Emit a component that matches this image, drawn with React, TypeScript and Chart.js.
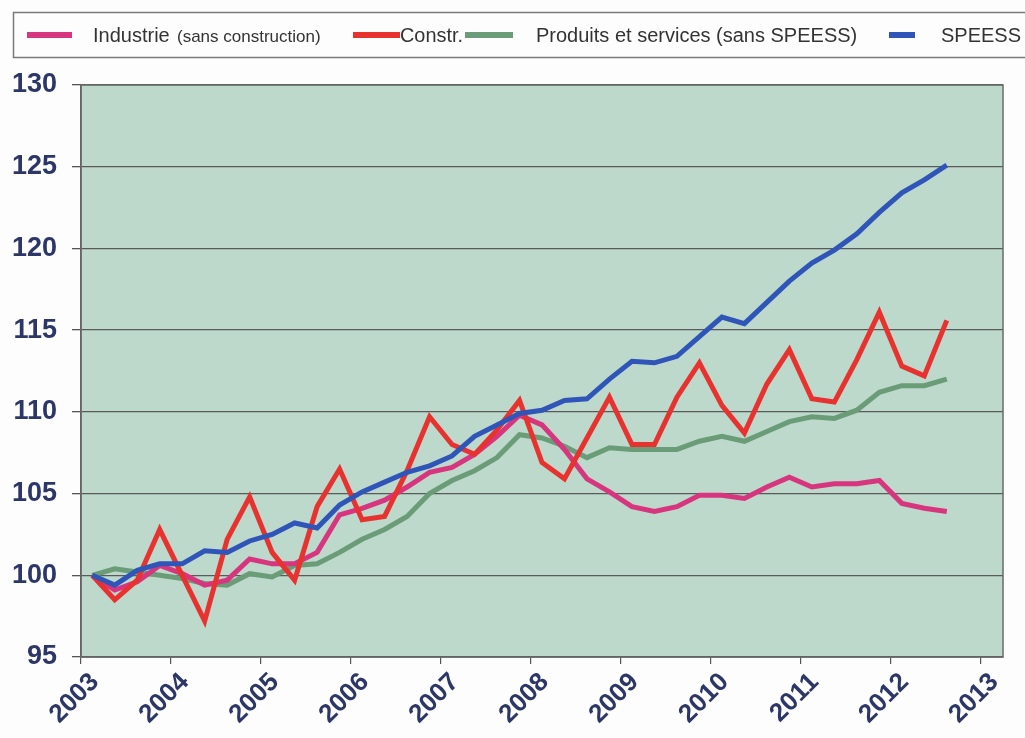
import React, { useEffect, useRef } from "react";
import { Chart, registerables } from "chart.js";

Chart.register(...registerables);

const quarters = [
  "2003T1", "2003T2", "2003T3", "2003T4",
  "2004T1", "2004T2", "2004T3", "2004T4",
  "2005T1", "2005T2", "2005T3", "2005T4",
  "2006T1", "2006T2", "2006T3", "2006T4",
  "2007T1", "2007T2", "2007T3", "2007T4",
  "2008T1", "2008T2", "2008T3", "2008T4",
  "2009T1", "2009T2", "2009T3", "2009T4",
  "2010T1", "2010T2", "2010T3", "2010T4",
  "2011T1", "2011T2", "2011T3", "2011T4",
  "2012T1", "2012T2", "2012T3",
];

const yearTicks = [2003, 2004, 2005, 2006, 2007, 2008, 2009, 2010, 2011, 2012, 2013];
const yTicks = [95, 100, 105, 110, 115, 120, 125, 130];

const industrie = [
  100.0, 99.1, 99.6, 100.6, 100.1, 99.4, 99.7, 101.0, 100.7, 100.7,
  101.4, 103.7, 104.1, 104.6, 105.4, 106.3, 106.6, 107.4, 108.5, 109.8,
  109.2, 107.7, 105.9, 105.1, 104.2, 103.9, 104.2, 104.9, 104.9, 104.7,
  105.4, 106.0, 105.4, 105.6, 105.6, 105.8, 104.4, 104.1, 103.9,
];

const construction = [
  100.0, 98.5, 99.7, 102.8, 100.0, 97.2, 102.2, 104.8, 101.4, 99.7,
  104.2, 106.5, 103.4, 103.6, 106.4, 109.7, 108.0, 107.4, 108.9, 110.7,
  106.9, 105.9, 108.4, 110.9, 108.0, 108.0, 110.9, 113.0, 110.4, 108.7,
  111.7, 113.8, 110.8, 110.6, 113.2, 116.1, 112.8, 112.2, 115.6,
];

const produits = [
  100.0, 100.4, 100.2, 100.0, 99.8, 99.5, 99.4, 100.1, 99.9, 100.6,
  100.7, 101.4, 102.2, 102.8, 103.6, 105.0, 105.8, 106.4, 107.2, 108.6,
  108.4, 107.9, 107.2, 107.8, 107.7, 107.7, 107.7, 108.2, 108.5, 108.2,
  108.8, 109.4, 109.7, 109.6, 110.1, 111.2, 111.6, 111.6, 112.0,
];

const speess = [
  100.0, 99.4, 100.3, 100.7, 100.7, 101.5, 101.4, 102.1, 102.5, 103.2,
  102.9, 104.3, 105.1, 105.7, 106.3, 106.7, 107.3, 108.5, 109.2, 109.9,
  110.1, 110.7, 110.8, 112.0, 113.1, 113.0, 113.4, 114.6, 115.8, 115.4,
  116.7, 118.0, 119.1, 119.9, 120.9, 122.2, 123.4, 124.2, 125.1,
];

const seriesNames = [
  "Industrie",
  "Constr.",
  "Produits et services (sans SPEESS)",
  "SPEESS",
];
const industrieNote = "(sans construction)";

const COLORS = {
  industrie: "#d8357f",
  construction: "#e8322f",
  produits: "#6a9c77",
  speess: "#2f55b9",
};

const quarterPos = (q: string) => {
  const year = parseInt(q.slice(0, 4), 10);
  const qn = parseInt(q.slice(-1), 10);
  return year + (qn - 0.5) / 4;
};

const toPoints = (vals: number[]) =>
  vals.map((v, i) => ({ x: quarterPos(quarters[i]), y: v }));

const FONT = "'Liberation Sans', Arial, sans-serif";
const NAVY = "#2c3768";

const backgroundPlugin = {
  id: "bgPlot",
  beforeDraw(chart: any) {
    const { ctx, chartArea } = chart;
    ctx.save();
    ctx.fillStyle = "#fdfdfd";
    ctx.fillRect(0, 0, chart.width, chart.height);
    ctx.fillStyle = "#bdd9cb";
    ctx.fillRect(
      chartArea.left,
      chartArea.top,
      chartArea.right - chartArea.left,
      chartArea.bottom - chartArea.top
    );
    ctx.restore();
  },
  beforeDatasetsDraw(chart: any) {
    const { ctx, chartArea } = chart;
    ctx.save();
    ctx.strokeStyle = "#6a6a6a";
    ctx.lineWidth = 1.5;
    ctx.strokeRect(
      chartArea.left,
      chartArea.top,
      chartArea.right - chartArea.left,
      chartArea.bottom - chartArea.top
    );
    ctx.restore();
  },
};

const legendPlugin = {
  id: "customLegend",
  afterDraw(chart: any) {
    const { ctx } = chart;
    ctx.save();
    ctx.strokeStyle = "#7a7a7a";
    ctx.lineWidth = 1.5;
    ctx.strokeRect(13.5, 12.5, 1030, 45);
    const yc = 35;
    const sample = (x1: number, x2: number, color: string) => {
      ctx.strokeStyle = color;
      ctx.lineWidth = 6;
      ctx.lineCap = "butt";
      ctx.beginPath();
      ctx.moveTo(x1, yc);
      ctx.lineTo(x2, yc);
      ctx.stroke();
    };
    ctx.fillStyle = "#333333";
    ctx.textBaseline = "middle";
    ctx.textAlign = "left";
    sample(27, 72, COLORS.industrie);
    ctx.font = `20px ${FONT}`;
    ctx.fillText(seriesNames[0], 93, yc + 1, 78);
    ctx.font = `17px ${FONT}`;
    ctx.fillText(industrieNote, 177, yc + 2, 150);
    sample(353, 400, COLORS.construction);
    ctx.font = `20px ${FONT}`;
    ctx.fillText(seriesNames[1], 400, yc + 1, 63);
    sample(465, 513, COLORS.produits);
    ctx.fillText(seriesNames[2], 536, yc + 1, 326);
    sample(889, 915, COLORS.speess);
    ctx.fillText(seriesNames[3], 941, yc + 1, 80);
    ctx.restore();
  },
};

export default function App() {
  const canvasRef = useRef<HTMLCanvasElement | null>(null);

  useEffect(() => {
    if (!canvasRef.current) return;
    const lineDs = (label: string, data: number[], color: string, order: number) => ({
      label,
      data: toPoints(data),
      borderColor: color,
      backgroundColor: color,
      borderWidth: 5,
      pointRadius: 0,
      tension: 0,
      fill: false,
      order,
    });
    const chart = new Chart(canvasRef.current, {
      type: "line",
      data: {
        datasets: [
          lineDs(seriesNames[3], speess, COLORS.speess, 0),
          lineDs(seriesNames[1], construction, COLORS.construction, 1),
          lineDs(seriesNames[0] + " " + industrieNote, industrie, COLORS.industrie, 2),
          lineDs(seriesNames[2], produits, COLORS.produits, 3),
        ],
      },
      options: {
        responsive: false,
        animation: false,
        layout: { padding: { top: 85, right: 22, left: 0, bottom: 0 } },
        plugins: {
          legend: { display: false },
          tooltip: { enabled: false },
          title: { display: false },
        },
        scales: {
          x: {
            type: "linear",
            min: 2003,
            max: 2013.25,
            afterBuildTicks: (axis: any) => {
              axis.ticks = yearTicks.map((v) => ({ value: v }));
            },
            afterFit: (scale: any) => {
              scale.height = 81;
            },
            ticks: {
              autoSkip: false,
              maxRotation: 45,
              minRotation: 45,
              padding: 3,
              labelOffset: 14,
              color: NAVY,
              font: { family: FONT, size: 26, weight: "bold" },
              callback: (v: any) => String(v),
            },
            grid: {
              drawOnChartArea: false,
              drawTicks: true,
              tickLength: 7,
              color: "#555555",
              lineWidth: 1.2,
            },
            border: { display: true, color: "#555555", width: 1.5 },
          },
          y: {
            min: 95,
            max: 130,
            afterBuildTicks: (axis: any) => {
              axis.ticks = yTicks.map((v) => ({ value: v }));
            },
            afterFit: (scale: any) => {
              scale.width = 81;
            },
            ticks: {
              padding: 15,
              color: NAVY,
              font: { family: FONT, size: 27, weight: "bold" },
              callback: (v: any) => String(v),
            },
            grid: {
              color: "#5a5a5a",
              lineWidth: 1.3,
              tickLength: 9,
              tickColor: "#555555",
            },
            border: { display: true, color: "#555555", width: 1.5 },
          },
        },
      },
      plugins: [backgroundPlugin, legendPlugin],
    } as any);
    return () => chart.destroy();
  }, []);

  return (
    <div style={{ position: "fixed", left: 0, top: 0, width: 1025, height: 738, background: "#fdfdfd" }}>
      <canvas ref={canvasRef} width={1025} height={738} style={{ display: "block" }} />
    </div>
  );
}
